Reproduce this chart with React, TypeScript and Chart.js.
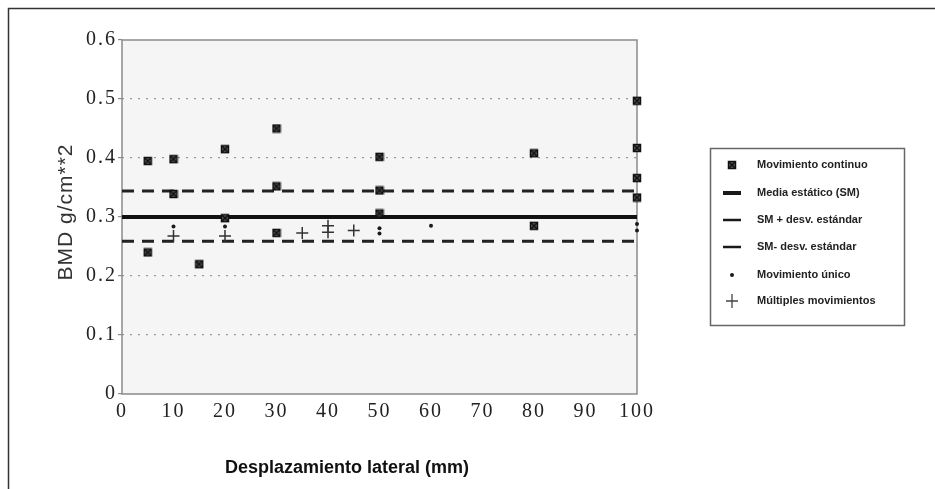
import React, { useEffect, useRef } from "react";
import { Chart, registerables } from "chart.js";

Chart.register(...registerables);

// Movimiento continuo
const continuoX = [5, 5, 10, 10, 15, 20, 20, 30, 30, 30, 50, 50, 50, 80, 80, 100, 100, 100, 100];
const continuoY = [0.395, 0.24, 0.398, 0.339, 0.22, 0.415, 0.298, 0.45, 0.352, 0.273, 0.402, 0.345, 0.306, 0.408, 0.285, 0.497, 0.417, 0.366, 0.333];

// Movimiento único
const unicoX = [10, 20, 50, 50, 60, 100, 100];
const unicoY = [0.284, 0.284, 0.281, 0.272, 0.285, 0.288, 0.277];

// Múltiples movimientos
const multiplesX = [10, 20, 35, 40, 40, 45];
const multiplesY = [0.268, 0.268, 0.273, 0.285, 0.274, 0.277];

// Reference levels
const mediaSM = 0.3;
const smMasDesv = 0.344;
const smMenosDesv = 0.259;
const lineaX = [0, 100];

const seriesLabels = [
  "Movimiento continuo",
  "Media estático (SM)",
  "SM + desv. estándar",
  "SM- desv. estándar",
  "Movimiento único",
  "Múltiples movimientos",
];

const xTitle = "Desplazamiento lateral (mm)";
const yTitle = "BMD g/cm**2";

const pts = (xs: number[], ys: number[]) => xs.map((x, i) => ({ x, y: ys[i] }));
const level = (v: number) => lineaX.map((x) => ({ x, y: v }));

function makeBoxMarker(): HTMLCanvasElement {
  const c = document.createElement("canvas");
  c.width = 10;
  c.height = 10;
  const g = c.getContext("2d")!;
  g.fillStyle = "#5a5a5a";
  g.fillRect(1.5, 1.5, 7, 7);
  g.strokeStyle = "#111";
  g.lineWidth = 1.5;
  g.strokeRect(1.5, 1.5, 7, 7);
  g.beginPath();
  g.moveTo(2, 2);
  g.lineTo(8, 8);
  g.moveTo(8, 2);
  g.lineTo(2, 8);
  g.stroke();
  return c;
}

export default function App() {
  const ref = useRef<HTMLCanvasElement>(null);

  useEffect(() => {
    if (!ref.current) return;
    const marker = makeBoxMarker();

    const decor = {
      id: "decor",
      beforeDraw(chart: any) {
        const ctx = chart.ctx as CanvasRenderingContext2D;
        const a = chart.chartArea;
        ctx.save();
        // page frame
        ctx.strokeStyle = "#333";
        ctx.lineWidth = 1.5;
        ctx.beginPath();
        ctx.moveTo(8.5, 489);
        ctx.lineTo(8.5, 8.5);
        ctx.lineTo(935, 8.5);
        ctx.stroke();
        // plot background
        ctx.fillStyle = "#f5f5f5";
        ctx.fillRect(a.left, a.top, a.right - a.left, a.bottom - a.top);
        ctx.restore();
        (ctx as any).letterSpacing = "2px";
      },
      beforeDatasetsDraw(chart: any) {
        const ctx = chart.ctx as CanvasRenderingContext2D;
        (ctx as any).letterSpacing = "0px";
        const a = chart.chartArea;
        ctx.save();
        ctx.strokeStyle = "#8a8a8a";
        ctx.lineWidth = 1.5;
        ctx.strokeRect(a.left, a.top, a.right - a.left, a.bottom - a.top);
        ctx.restore();
      },
      afterDraw(chart: any) {
        const ctx = chart.ctx as CanvasRenderingContext2D;
        (ctx as any).letterSpacing = "0px";
        ctx.save();
        // y axis title
        ctx.save();
        ctx.translate(72, 212);
        ctx.rotate(-Math.PI / 2);
        ctx.fillStyle = "#333";
        ctx.font = "21px 'Liberation Sans', Arial, sans-serif";
        (ctx as any).letterSpacing = "1px";
        ctx.textAlign = "center";
        ctx.textBaseline = "alphabetic";
        ctx.fillText(yTitle, 0, 0);
        ctx.restore();
        (ctx as any).letterSpacing = "0px";

        // x axis title
        ctx.fillStyle = "#111";
        ctx.font = "bold 18px 'Liberation Sans Narrow', 'Liberation Sans', Arial, sans-serif";
        ctx.textAlign = "center";
        ctx.textBaseline = "middle";
        ctx.fillText(xTitle, 347, 468);

        // legend box
        ctx.fillStyle = "#fff";
        ctx.fillRect(710, 148, 194, 177);
        ctx.strokeStyle = "#666";
        ctx.lineWidth = 1.5;
        ctx.strokeRect(710.5, 148.5, 194, 177);

        const rows = [165, 193, 220, 247, 275, 301];
        const sx = 732;
        ctx.font = "bold 11px 'Liberation Sans Narrow', 'Liberation Sans', Arial, sans-serif";
        ctx.textAlign = "left";
        ctx.textBaseline = "middle";
        seriesLabels.forEach((label, i) => {
          const y = rows[i];
          ctx.strokeStyle = "#1a1a1a";
          ctx.fillStyle = "#1a1a1a";
          if (i === 0) {
            ctx.drawImage(marker, sx - 5, y - 5);
          } else if (i === 1) {
            ctx.lineWidth = 4;
            ctx.beginPath();
            ctx.moveTo(sx - 9, y);
            ctx.lineTo(sx + 9, y);
            ctx.stroke();
          } else if (i === 2 || i === 3) {
            ctx.lineWidth = 2.5;
            ctx.beginPath();
            ctx.moveTo(sx - 9, y);
            ctx.lineTo(sx + 9, y);
            ctx.stroke();
          } else if (i === 4) {
            ctx.beginPath();
            ctx.arc(sx, y, 2, 0, Math.PI * 2);
            ctx.fill();
          } else {
            ctx.strokeStyle = "#444";
            ctx.lineWidth = 1.3;
            ctx.beginPath();
            ctx.moveTo(sx - 6, y);
            ctx.lineTo(sx + 6, y);
            ctx.moveTo(sx, y - 7);
            ctx.lineTo(sx, y + 7);
            ctx.stroke();
          }
          ctx.fillStyle = "#222";
          ctx.fillText(label, 757, y);
        });
        ctx.restore();
      },
    };

    const chart = new Chart(ref.current, {
      type: "scatter",
      data: {
        datasets: [
          {
            label: seriesLabels[0],
            data: pts(continuoX, continuoY),
            pointStyle: marker as any,
            pointRadius: 5,
            clip: false as any,
            order: 0,
          },
          {
            type: "line" as any,
            label: seriesLabels[1],
            data: level(mediaSM),
            borderColor: "#111",
            borderWidth: 4,
            pointRadius: 0,
            order: 5,
          },
          {
            type: "line" as any,
            label: seriesLabels[2],
            data: level(smMasDesv),
            borderColor: "#222",
            borderWidth: 3,
            borderDash: [12, 8],
            pointRadius: 0,
            order: 5,
          },
          {
            type: "line" as any,
            label: seriesLabels[3],
            data: level(smMenosDesv),
            borderColor: "#222",
            borderWidth: 3,
            borderDash: [12, 8],
            pointRadius: 0,
            order: 5,
          },
          {
            label: seriesLabels[4],
            data: pts(unicoX, unicoY),
            pointStyle: "circle",
            pointRadius: 2,
            backgroundColor: "#1a1a1a",
            borderColor: "#1a1a1a",
            borderWidth: 0,
            clip: false as any,
            order: 0,
          },
          {
            label: seriesLabels[5],
            data: pts(multiplesX, multiplesY),
            pointStyle: "cross",
            pointRadius: 6,
            borderColor: "#333",
            borderWidth: 1.5,
            clip: false as any,
            order: 0,
          },
        ],
      },
      options: {
        animation: false,
        responsive: true,
        maintainAspectRatio: false,
        devicePixelRatio: 1,
        layout: { padding: { left: 0, top: 40, right: 298, bottom: 0 } },
        plugins: {
          legend: { display: false },
          tooltip: { enabled: false },
        },
        scales: {
          x: {
            type: "linear",
            min: 0,
            max: 100,
            afterFit: (s: any) => {
              s.height = 95;
            },
            ticks: {
              stepSize: 10,
              maxRotation: 0,
              autoSkip: false,
              padding: 6,
              color: "#222",
              font: { family: "'Liberation Serif', 'Times New Roman', serif", size: 20 },
            },
            grid: { display: false, drawTicks: false },
            border: { display: false },
          },
          y: {
            type: "linear",
            min: 0,
            max: 0.6,
            afterFit: (s: any) => {
              s.width = 122;
            },
            ticks: {
              stepSize: 0.1,
              padding: 1,
              color: "#222",
              font: { family: "'Liberation Serif', 'Times New Roman', serif", size: 20 },
            },
            grid: {
              color: (c: any) => {
                const v = Math.round((c.tick?.value ?? 0) * 10) / 10;
                return v === 0 || v === 0.6 || v === 0.3 ? "rgba(0,0,0,0)" : "#9a9a9a";
              },
              lineWidth: 1.2,
              tickLength: 4,
              tickColor: "#8a8a8a",
              tickWidth: 1.2,
            },
            border: { display: false, dash: [2, 6] },
          },
        },
      },
      plugins: [decor],
    });

    return () => chart.destroy();
  }, []);

  return (
    <div style={{ position: "fixed", left: 0, top: 0, width: 935, height: 489, background: "#fff" }}>
      <canvas ref={ref} />
    </div>
  );
}
